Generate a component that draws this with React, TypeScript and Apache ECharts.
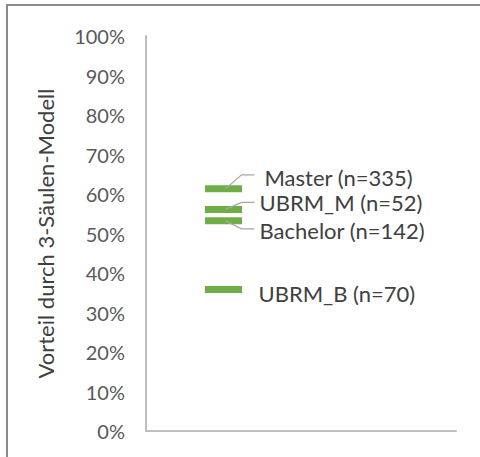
import React, { useEffect, useRef } from "react";
import * as echarts from "echarts";

// Share of each student group that rates the 3-pillar model as an advantage
const groups = ["Master", "UBRM_M", "Bachelor", "UBRM_B"];
const sampleSizes = [335, 52, 142, 70];
const shares = [61.3, 56.1, 53.2, 35.8];

const yTicks = [0, 10, 20, 30, 40, 50, 60, 70, 80, 90, 100];
const axisTitle = "Vorteil durch 3-Säulen-Modell";

// Label placement relative to each marker: text offset and leader-line bend
const labelLayout = [
  { dx: 41, dy: -11, leader: [[2, 0], [18, -14], [31, -14]] },
  { dx: 36, dy: -7, leader: [[2, 0], [18, -7], [31, -7]] },
  { dx: 36, dy: 10, leader: [[2, 0], [18, 8], [31, 8]] },
  { dx: 35, dy: 4, leader: null as number[][] | null },
];

const FONT = "Lato, 'Open Sans', sans-serif";
const GREEN = "#70ad47";

export default function App() {
  const ref = useRef<HTMLDivElement>(null);

  useEffect(() => {
    if (!ref.current) return;
    const chart = echarts.init(ref.current, null, { renderer: "svg" });

    const data = groups.map((g, i) => [0, shares[i], i]);

    chart.setOption({
      animation: false,
      backgroundColor: "#ffffff",
      graphic: [
        {
          type: "rect",
          shape: { x: 7, y: 5, width: 520, height: 500 },
          style: { fill: "none", stroke: "#8a8a8a", lineWidth: 2 },
          silent: true,
        },
      ],
      grid: { left: 146, right: 24, top: 36, bottom: 26, containLabel: false },
      xAxis: {
        type: "category",
        data: ["", ""],
        boundaryGap: true,
        axisLine: { show: true, lineStyle: { color: "#bfbfbf", width: 2 } },
        axisTick: { show: false },
        axisLabel: { show: false },
        splitLine: { show: false },
      },
      yAxis: {
        type: "value",
        min: 0,
        max: 100,
        interval: 10,
        name: axisTitle,
        nameLocation: "middle",
        nameRotate: 90,
        nameGap: 90,
        nameTextStyle: { fontFamily: FONT, fontSize: 22, color: "#404040" },
        axisLine: { show: true, lineStyle: { color: "#bfbfbf", width: 2 } },
        axisTick: { show: false },
        splitLine: { show: false },
        axisLabel: {
          fontFamily: FONT,
          fontSize: 20,
          color: "#595959",
          margin: 21,
          formatter: (v: number) => (yTicks.includes(v) ? `${v}%` : ""),
        },
      },
      series: [
        {
          type: "custom",
          data,
          renderItem: (params: any, api: any) => {
            const idx = api.value(2);
            const [x, y] = api.coord([api.value(0), api.value(1)]);
            const lay = labelLayout[idx];
            const children: any[] = [
              {
                type: "rect",
                shape: { x: x - 18.5, y: y - 3.5, width: 37, height: 7 },
                style: { fill: GREEN },
              },
            ];
            if (lay.leader) {
              children.push({
                type: "polyline",
                shape: { points: lay.leader.map(([px, py]) => [x + px, y + py]) },
                style: { stroke: "#a6a6a6", lineWidth: 1.3, fill: "none" },
              });
            }
            children.push({
              type: "text",
              x: x + lay.dx,
              y: y + lay.dy,
              style: {
                text: `${groups[idx]} (n=${sampleSizes[idx]})`,
                fill: "#404040",
                font: `22px ${FONT}`,
                align: "left",
                verticalAlign: "middle",
              },
            });
            return { type: "group", children };
          },
        },
      ],
    });

    return () => chart.dispose();
  }, []);

  return (
    <div
      ref={ref}
      style={{ position: "absolute", left: 0, top: 0, width: 480, height: 457 }}
    />
  );
}
